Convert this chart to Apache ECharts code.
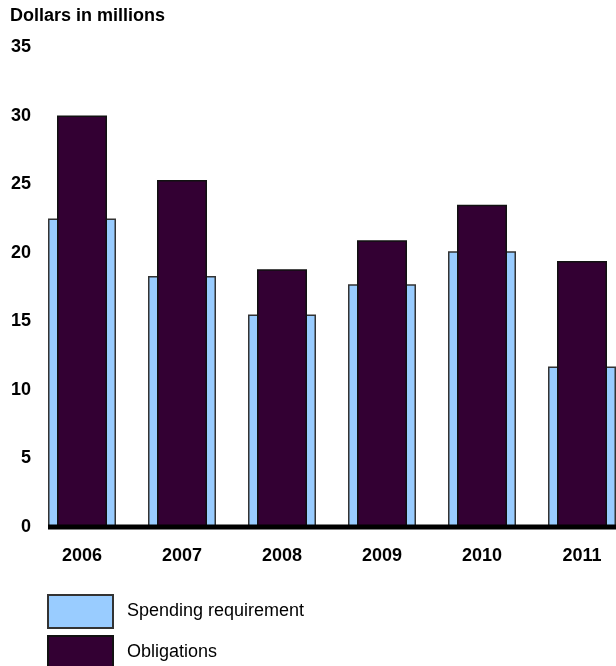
<!DOCTYPE html>
<html>
<head>
<meta charset="utf-8">
<script src="https://cdn.jsdelivr.net/npm/echarts@6/dist/echarts.min.js"></script>
<style>
  html, body { margin: 0; padding: 0; background: #fff; overflow: hidden; width: 616px; height: 666px; }
  /* wider than the window: the last bar is cut off at the right edge, as in the original */
  #chart { width: 632px; height: 666px; }
</style>
</head>
<body>
<div id="chart"></div>
<script>
const years = ['2006', '2007', '2008', '2009', '2010', '2011']
const spendingRequirement = [22.5, 18.3, 15.5, 17.7, 20.1, 11.7]
const obligations = [30.0, 25.3, 18.8, 20.9, 23.5, 19.4]

const font = 'Liberation Sans, Arial, sans-serif'
const legendText = { fontFamily: font, fontSize: 18, color: '#000', padding: [0, 0, 0, 9] }

const chart = echarts.init(document.getElementById('chart'))

chart.setOption({
    animation: false,
    backgroundColor: '#fff',
    title: {
        text: 'Dollars in millions',
        left: 5,
        top: 2,
        textStyle: { fontFamily: font, fontSize: 18, fontWeight: 'bold', color: '#000' }
    },
    // one legend per item so they stack even though the second is cut off
    legend: [
        {
            left: 47, top: 594, padding: 0, itemWidth: 65, itemHeight: 33, icon: 'rect',
            data: ['Spending requirement'], textStyle: legendText
        },
        {
            left: 47, top: 635, padding: 0, itemWidth: 65, itemHeight: 33, icon: 'rect',
            data: ['Obligations'], textStyle: legendText
        }
    ],
    grid: { left: 32, right: 0, top: 47, bottom: 139 },
    xAxis: [
        {
            type: 'category',
            data: years,
            axisLine: { show: false },
            axisTick: { show: false },
            axisLabel: { margin: 20, fontFamily: font, fontSize: 18, fontWeight: 'bold', color: '#000' }
        },
        {
            type: 'category',
            data: years,
            show: false
        }
    ],
    yAxis: {
        type: 'value',
        min: 0,
        max: 35,
        interval: 5,
        axisLine: { show: false },
        axisTick: { show: false },
        splitLine: { show: false },
        axisLabel: { margin: 1, fontFamily: font, fontSize: 18, fontWeight: 'bold', color: '#000' }
    },
    series: [
        {
            name: 'Spending requirement',
            type: 'bar',
            xAxisIndex: 0,
            data: spendingRequirement,
            barWidth: '68%',
            itemStyle: { color: '#99ccff', borderColor: '#333', borderWidth: 1.5 }
        },
        {
            name: 'Obligations',
            type: 'bar',
            xAxisIndex: 1,
            data: obligations,
            barWidth: '50%',
            itemStyle: { color: '#330033', borderColor: '#111', borderWidth: 1.5 }
        }
    ]
})

// thick baseline from the first bar's left edge to the right edge
const y0 = chart.convertToPixel({ yAxisIndex: 0 }, 0)
const xFirst = chart.convertToPixel({ xAxisIndex: 0 }, years[0])
const band = chart.getModel().getComponent('xAxis', 0).axis.getBandWidth()
chart.setOption({
    graphic: [{
        type: 'line',
        z: 100,
        shape: { x1: xFirst - band * 0.34, y1: y0, x2: 632, y2: y0 },
        style: { stroke: '#000', lineWidth: 5 }
    }]
})
</script>
</body>
</html>
